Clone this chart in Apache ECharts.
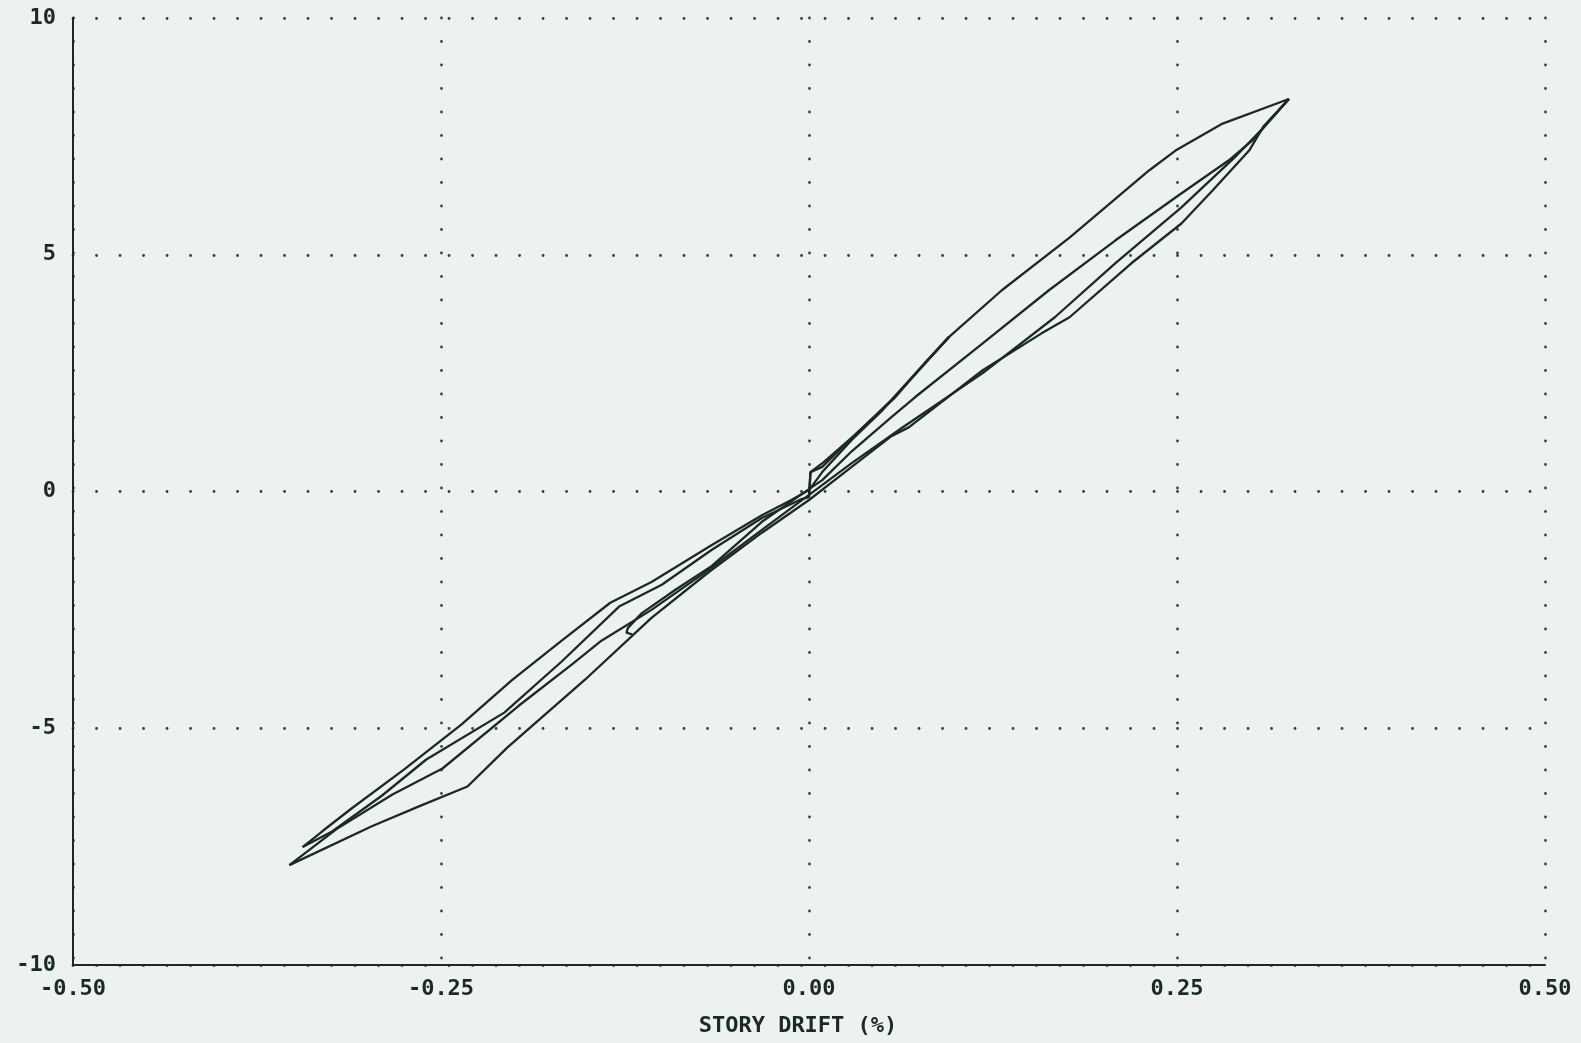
<!DOCTYPE html>
<html>
<head>
<meta charset="utf-8">
<script src="https://cdn.jsdelivr.net/npm/echarts@6/dist/echarts.min.js"></script>
<style>
html,body{margin:0;padding:0;background:#edf2ee;}
#chart{width:1581px;height:1043px;}
</style>
</head>
<body>
<div id="chart"></div>
<script>
// Tick labels
const xTickLabels = ['-0.50', '-0.25', '0.00', '0.25', '0.50'];
const yTickLabels = ['-10', '-5', '0', '5', '10'];
const xAxisTitle = 'STORY DRIFT (%)';

// Branches of the hysteresis record: [story drift (%), load]
const branchStart = [
  [0.000, -0.10], [0.001, 0.41], [0.009, 0.52], [0.029, 1.13], [0.056, 1.93],
  [0.077, 2.64], [0.095, 3.26]
];
const branchToTip1 = [
  [0.095, 3.26], [0.073, 2.52], [0.050, 1.72], [0.029, 1.09], [0.009, 0.41],
  [0.000, 0.03], [-0.012, -0.18], [-0.032, -0.50], [-0.066, -1.13], [-0.107, -1.91],
  [-0.135, -2.35], [-0.168, -3.15], [-0.202, -3.99], [-0.236, -4.92],
  [-0.275, -5.87], [-0.311, -6.70], [-0.330, -7.16], [-0.344, -7.51]
];
const branchToPeak1 = [
  [-0.344, -7.51], [-0.324, -7.18], [-0.290, -6.42], [-0.260, -5.66], [-0.207, -4.67],
  [-0.168, -3.59], [-0.129, -2.43], [-0.100, -1.97], [-0.066, -1.23], [-0.032, -0.56],
  [-0.005, -0.16], [0.000, -0.12], [0.001, 0.41], [0.010, 0.62], [0.031, 1.19],
  [0.058, 1.97], [0.078, 2.69], [0.095, 3.26], [0.131, 4.25], [0.177, 5.36],
  [0.231, 6.78], [0.249, 7.20], [0.281, 7.77], [0.326, 8.29]
];
const branchToTip2 = [
  [0.326, 8.29], [0.309, 7.72], [0.299, 7.20], [0.274, 6.35], [0.253, 5.66],
  [0.219, 4.82], [0.177, 3.68], [0.158, 3.34], [0.118, 2.56], [0.068, 1.36],
  [0.056, 1.17], [0.029, 0.52], [0.000, -0.18], [-0.032, -0.87], [-0.068, -1.70],
  [-0.107, -2.67], [-0.152, -3.97], [-0.205, -5.41], [-0.232, -6.23], [-0.265, -6.65],
  [-0.297, -7.07], [-0.353, -7.89]
];
const branchToPeak2 = [
  [-0.353, -7.89], [-0.321, -7.13], [-0.283, -6.40], [-0.249, -5.85], [-0.197, -4.52],
  [-0.161, -3.65], [-0.141, -3.15], [-0.107, -2.50], [-0.073, -1.76], [-0.032, -0.81],
  [0.000, -0.07], [0.029, 0.60], [0.063, 1.34], [0.118, 2.50], [0.167, 3.68],
  [0.208, 4.82], [0.253, 6.00], [0.289, 7.05], [0.308, 7.66], [0.326, 8.29]
];
const branchEnd = [
  [0.326, 8.29], [0.301, 7.41], [0.285, 6.99], [0.249, 6.21], [0.208, 5.30],
  [0.163, 4.25], [0.118, 3.13], [0.072, 1.99], [0.056, 1.57], [0.029, 0.85],
  [0.009, 0.24], [0.000, 0.05], [-0.032, -0.64], [-0.066, -1.57], [-0.091, -2.08],
  [-0.114, -2.58], [-0.123, -2.88], [-0.124, -2.98], [-0.120, -3.02]
];
const branches = [branchStart, branchToTip1, branchToPeak1, branchToTip2, branchToPeak2, branchEnd];

const ink = '#1b2a23';
const font = 'DejaVu Sans Mono';

const chart = echarts.init(document.getElementById('chart'));
const dotted = { color: '#34443c', width: 2.8, type: [0.1, 23.4], cap: 'round' };
const labelStyle = { fontFamily: font, fontSize: 22, fontWeight: 'bold', color: ink };

chart.setOption({
  backgroundColor: '#edf2ee',
  animation: false,
  grid: { left: 73, right: 36, top: 18, bottom: 78, containLabel: false, outerBoundsMode: 'none' },
  xAxis: {
    type: 'value', min: -0.5, max: 0.5, interval: 0.25,
    name: xAxisTitle, nameLocation: 'middle', nameGap: 50,
    nameTextStyle: Object.assign({}, labelStyle, { padding: [0, 22, 0, 0] }),
    axisLine: { show: true, onZero: false, lineStyle: { color: ink, width: 2 } },
    axisTick: { show: false },
    axisLabel: Object.assign({}, labelStyle, {
      margin: 13,
      formatter: (v) => xTickLabels[Math.round((v + 0.5) / 0.25)]
    }),
    splitLine: { show: true, lineStyle: dotted }
  },
  yAxis: {
    type: 'value', min: -10, max: 10, interval: 5,
    axisLine: { show: true, onZero: false, lineStyle: { color: ink, width: 2 } },
    axisTick: { show: false },
    axisLabel: Object.assign({}, labelStyle, {
      margin: 17,
      formatter: (v) => yTickLabels[Math.round((v + 10) / 5)]
    }),
    splitLine: { show: true, lineStyle: dotted }
  },
  series: branches.map((b) => ({
    type: 'line', data: b, showSymbol: false, symbol: 'none',
    lineStyle: { color: ink, width: 2.3 }, silent: true, z: 3
  }))
});
</script>
</body>
</html>
